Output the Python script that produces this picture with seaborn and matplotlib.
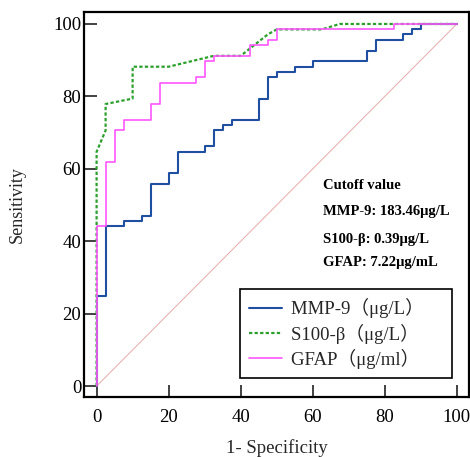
import matplotlib
matplotlib.use("Agg")
import matplotlib.pyplot as plt
import seaborn as sns

# ROC corner points (1-specificity %, sensitivity %)
mmp9_fpr = [0, 0, 2.5, 2.5, 7.5, 7.5, 12.5, 12.5, 15, 15, 20, 20, 22.5, 22.5,
            30, 30, 32.5, 32.5, 35, 35, 37.5, 37.5, 45, 45, 47.5, 47.5, 50, 50,
            55, 55, 60, 60, 75, 75, 77.5, 77.5, 85, 85, 87.5, 87.5, 90, 90, 100]
mmp9_tpr = [0, 25, 25, 44.1, 44.1, 45.6, 45.6, 47.1, 47.1, 55.9, 55.9, 58.8,
            58.8, 64.7, 64.7, 66.2, 66.2, 70.6, 70.6, 72.1, 72.1, 73.5, 73.5,
            79.4, 79.4, 85.3, 85.3, 86.8, 86.8, 88.2, 88.2, 89.7, 89.7, 92.6,
            92.6, 95.6, 95.6, 97.1, 97.1, 98.5, 98.5, 100, 100]

s100_fpr = [0, 0, 2.5, 2.5, 10, 10, 20, 32.5, 40, 47.5, 50, 62.5, 67.5, 100]
s100_tpr = [0, 64.7, 70.6, 77.9, 79.4, 88.2, 88.2, 91.2, 91.2, 97.1, 98.5,
            98.5, 100, 100]

gfap_fpr = [0, 0, 2.5, 2.5, 5, 5, 7.5, 7.5, 15, 15, 17.5, 17.5, 27.5, 27.5,
            30, 30, 32.5, 32.5, 42.5, 42.5, 47.5, 47.5, 50, 50, 82.5, 82.5, 100]
gfap_tpr = [0, 44.1, 44.1, 61.8, 61.8, 70.6, 70.6, 73.5, 73.5, 77.9, 77.9,
            83.8, 83.8, 85.3, 85.3, 89.7, 89.7, 91.2, 91.2, 94.1, 94.1, 95.6,
            95.6, 98.5, 98.5, 100, 100]

ref_line = [0, 100]

labels = ["MMP-9（μg/L）", "S100-β（μg/L）", "GFAP（μg/ml）"]
cutoff_lines = ["Cutoff value", "MMP-9: 183.46μg/L", "S100-β: 0.39μg/L",
                "GFAP: 7.22μg/mL"]
ticks = [0, 20, 40, 60, 80, 100]

sns.set_theme(style="ticks")
plt.rcParams["font.family"] = ["Liberation Serif", "Noto Sans CJK SC", "DejaVu Sans"]

fig = plt.figure(figsize=(4.7, 4.57), dpi=100)
ax = fig.add_axes([0.1787, 0.1313, 0.8193, 0.8424])

sns.lineplot(x=ref_line, y=ref_line, ax=ax, color="#e8b4b4", lw=0.8)
sns.lineplot(x=mmp9_fpr, y=mmp9_tpr, ax=ax, sort=False, estimator=None,
             color="#1f4fa0", lw=1.5, label=labels[0])
sns.lineplot(x=s100_fpr, y=s100_tpr, ax=ax, sort=False, estimator=None,
             color="#2ca02c", lw=1.6, linestyle=(0, (1.5, 1)), label=labels[1])
sns.lineplot(x=gfap_fpr, y=gfap_tpr, ax=ax, sort=False, estimator=None,
             color="#ff55ff", lw=1.2, label=labels[2])

ax.set_xlim(-3.5, 103.4)
ax.set_ylim(-3.0, 103.3)
ax.set_xticks(ticks)
ax.set_yticks(ticks)
ax.tick_params(axis="both", direction="in", length=9, width=1.3,
               color="#333333", labelsize=13.5, labelcolor="black")
ax.tick_params(axis="x", pad=9)
ax.tick_params(axis="y", pad=2)
for s in ax.spines.values():
    s.set_visible(True)
    s.set_linewidth(1.6)
    s.set_color("black")

ax.set_xlabel("1- Specificity", fontsize=13.5, labelpad=9)
ax.set_ylabel("Sensitivity", fontsize=13)
ax.yaxis.set_label_coords(-0.152, 0.5)

ys = [55.5, 48.2, 40.4, 34.0]
for txt, yy in zip(cutoff_lines, ys):
    ax.text(62.9, yy, txt, fontsize=10.5, fontweight="bold", va="center",
            ha="left", color="black")

# wide legend box like the original (extra room after the labels)
handles, _ = ax.get_legend_handles_labels()
leg = ax.legend(handles, [l + "\u3000" for l in labels],
                loc="lower right", bbox_to_anchor=(0.955, 0.0486),
                borderaxespad=0, fontsize=13.5, handlelength=1.75,
                handletextpad=0.45, labelspacing=0.28, borderpad=0.5,
                fancybox=False, framealpha=1, edgecolor="black")
leg.get_frame().set_linewidth(1.2)

fig.savefig("out.png", dpi=100)
